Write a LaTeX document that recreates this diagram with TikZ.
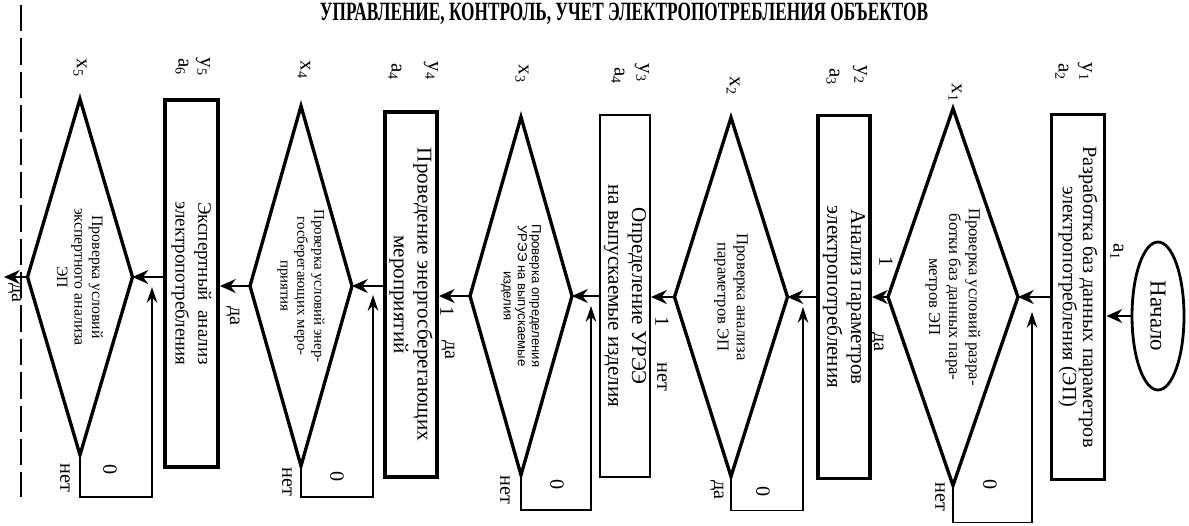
\documentclass[tikz,border=0pt]{standalone}
\usepackage{fontspec}
\usepackage{graphicx}
\setmainfont{Liberation Serif}
\newfontfamily\condsans{Liberation Sans}
\usetikzlibrary{shapes.geometric,arrows.meta}

\tikzset{
  proc/.style={draw, rectangle, rotate=-90, line width=2.2pt, align=center,
    inner sep=1pt, font=\fontsize{12}{13.5}\selectfont},
  cond/.style={rectangle, rotate=-90, align=center, inner sep=0pt, outer sep=0pt},
  condline/.style={line width=1.9pt, line join=miter},
  term/.style={draw, ellipse, rotate=-90, line width=1.6pt,
    font=\fontsize{13}{15}\selectfont, minimum width=2.96cm, minimum height=1.04cm},
  tag/.style={rotate=-90, inner sep=0pt, font=\fontsize{11.5}{12}\selectfont},
  idx/.style={rotate=-90, inner sep=0pt, font=\fontsize{12}{12.5}\selectfont},
  flow/.style={line width=1pt, -{Stealth[length=9pt,width=8pt,inset=3pt]}},
  ret/.style={line width=0.8pt, -{Stealth[length=9pt,width=6pt,inset=3pt]}},
  border/.style={line width=0.8pt, dash pattern=on 15pt off 4pt},
}

\begin{document}
\begin{tikzpicture}[x=0.02cm, y=-0.02cm]
\useasboundingbox (0,0) rectangle (1189,525);

% heading
\node[anchor=base, inner sep=0pt, font=\bfseries\fontsize{15}{15}\selectfont] (title) at (624,20)
  {\scalebox{0.655}[1]{УПРАВЛЕНИЕ, КОНТРОЛЬ, УЧЕТ ЭЛЕКТРОПОТРЕБЛЕНИЯ ОБЪЕКТОВ}};

% boundary of the block
\draw[border] (21,5) -- (21,497);

% process blocks
\node[term] (start) at (1158,316) {Начало};
\node[proc, minimum width=7.3cm, minimum height=1.06cm, font=\fontsize{11.5}{11.5}\selectfont]
  (a1) at (1078,297) {Разработка баз данных параметров\\электропотребления (ЭП)};
\node[proc, minimum width=7.26cm, minimum height=1.04cm]
  (a3) at (844,297) {Анализ параметров\\электропотребления};
\node[proc, line width=1.2pt, minimum width=7.24cm, minimum height=1.0cm]
  (a4) at (625,296) {Определение УРЭЭ\\на выпускаемые изделия};
\node[proc, minimum width=7.3cm, minimum height=1.04cm]
  (a5) at (411,294.5) {Проведение энергосберегающих\\мероприятий};
\node[proc, minimum width=7.34cm, minimum height=1.06cm, font=\fontsize{10.8}{13}\selectfont]
  (a6) at (191.5,283.5) {Экспертный~~анализ\\электропотребления};

% condition checks (rhombi drawn through the node's side midpoints)
\node[cond, minimum width=7.54cm, minimum height=2.6cm, font=\fontsize{9.5}{11.3}\selectfont]
  (x1) at (953,297) {Проверка условий разра-\\ботки баз данных пара-\\метров ЭП};
\node[cond, minimum width=7.18cm, minimum height=2.26cm, font=\fontsize{9.5}{11}\selectfont]
  (x2) at (731,297) {Проверка анализа\\параметров ЭП};
\node[cond, minimum width=7.16cm, minimum height=2.04cm, font=\condsans\fontsize{7.5}{8}\selectfont]
  (x3) at (521,296) {Проверка определения\\УРЭЭ на выпускаемые\\изделия};
\node[cond, minimum width=7.2cm, minimum height=2.04cm, font=\fontsize{8.5}{9.6}\selectfont]
  (x4) at (301,286) {Проверка условий энер-\\гoсберегающих меро-\\приятия};
\node[cond, minimum width=7.12cm, minimum height=2.1cm, font=\fontsize{9}{10}\selectfont]
  (x5) at (80,277) {Проверка условий\\экспертного анализа\\ЭП};
\foreach \n in {x1,x2,x3,x4,x5}
  \draw[condline] (\n.north) -- (\n.east) -- (\n.south) -- (\n.west) -- cycle;

% state and condition indices
\node[idx] (ia1) at (1117,252) {a\textsubscript{1}};
\node[idx] (iy1) at (1085,72) {y\textsubscript{1}};
\node[idx] (ia2) at (1062,72) {a\textsubscript{2}};
\node[idx] (ix1) at (955,93) {x\textsubscript{1}};
\node[idx] (iy2) at (860,75) {y\textsubscript{2}};
\node[idx] (ia3) at (833,77) {a\textsubscript{3}};
\node[idx] (ix2) at (733,86) {x\textsubscript{2}};
\node[idx] (iy3) at (642,73) {y\textsubscript{3}};
\node[idx] (ia4) at (618,76) {a\textsubscript{4}};
\node[idx] (ix3) at (522,74) {x\textsubscript{3}};
\node[idx] (iy4) at (431,71) {y\textsubscript{4}};
\node[idx] (ib4) at (395,72) {a\textsubscript{4}};
\node[idx] (ix4) at (304,70) {x\textsubscript{4}};
\node[idx] (iy5) at (203,67) {y\textsubscript{5}};
\node[idx] (ia6) at (182,67) {a\textsubscript{6}};
\node[idx] (ix5) at (80,68) {x\textsubscript{5}};

% forward connectors
\draw[flow] (start.south) -- (start.south -| a1.north);
\draw[flow] (x1.north -| a1.south) -- (x1.north);
\draw[flow] (x1.south) -- (x1.south -| a3.north);
\draw[flow] (x2.north -| a3.south) -- (x2.north);
\draw[flow] (x2.south) -- (x2.south -| a4.north);
\draw[flow] (x3.north -| a4.south) -- (x3.north);
\draw[flow] (x3.south) -- (x3.south -| a5.north);
\draw[flow] (x4.north -| a5.south) -- (x4.north);
\draw[flow] (x4.south) -- (x4.south -| a6.north);
\draw[flow] (x5.north -| a6.south) -- (x5.north);
\coordinate (out) at (4,277);
\draw[flow] (x5.south) -- (out);

% return loops (branch 0)
\coordinate (r1) at (1032,312);
\coordinate (r2) at (803,307);
\coordinate (r3) at (591,306);
\coordinate (r4) at (373,295);
\coordinate (r5) at (152,287);
\draw[ret] (x1.east) -- ++(0,37) -| (r1);
\draw[ret] (x2.east) -- ++(0,34) -| (r2);
\draw[ret] (x3.east) -- ++(0,35) -| (r3);
\draw[ret] (x4.east) -- ++(0,31) -| (r4);
\draw[ret] (x5.east) -- ++(0,42) -| (r5);

% branch labels
\node[tag] (b1a) at (886,262) {1};
\node[tag] (b1b) at (877,342) {да};
\node[tag] (b1c) at (990,485) {0};
\node[tag] (b1d) at (940,497) {нет};
\node[tag] (b2a) at (662,322) {1};
\node[tag] (b2b) at (662,377) {нет};
\node[tag] (b2c) at (763,492) {0};
\node[tag] (b2d) at (717,490) {да};
\node[tag] (b3a) at (447,312) {1};
\node[tag] (b3b) at (448,350) {да};
\node[tag] (b3c) at (557,485) {0};
\node[tag] (b3d) at (505,490) {нет};
\node[tag] (b4a) at (233,316) {да};
\node[tag] (b4c) at (337,477) {0};
\node[tag] (b4d) at (287,482) {нет};
\node[tag] (b5a) at (15,293) {да};
\node[tag] (b5c) at (110,470) {0};
\node[tag] (b5d) at (65,478) {нет};
\end{tikzpicture}
\end{document}
